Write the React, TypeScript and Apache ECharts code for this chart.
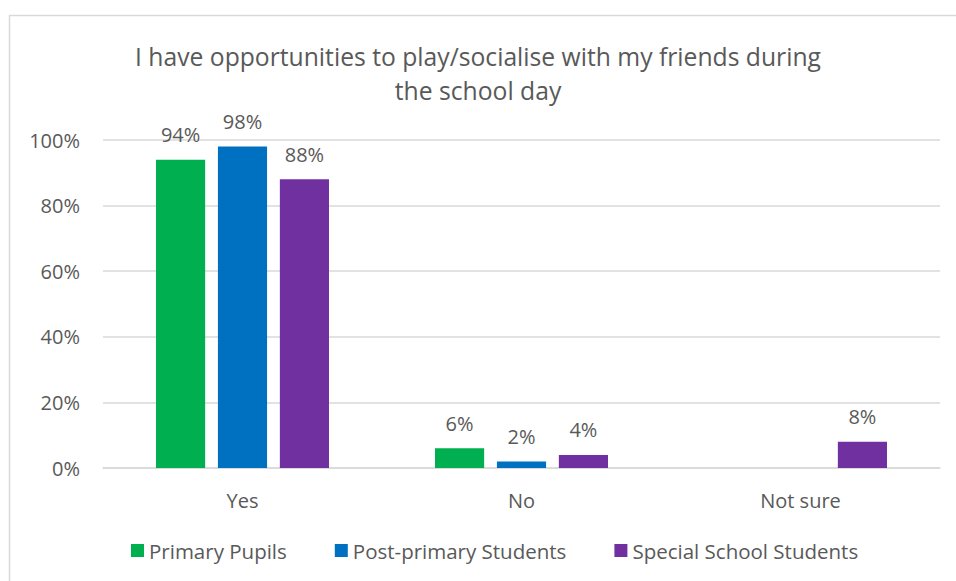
import React, { useEffect, useRef } from "react";
import * as echarts from "echarts";

const categories = ["Yes", "No", "Not sure"];
const seriesNames = ["Primary Pupils", "Post-primary Students", "Special School Students"];
const primaryPupils = [94, 6, 0];
const postPrimaryStudents = [98, 2, 0];
const specialSchoolStudents = [88, 4, 8];
const colors = ["#00B050", "#0070C0", "#7030A0"];
const titleText = "I have opportunities to play/socialise with my friends during\nthe school day";

const FONT = "'Open Sans', 'Noto Sans', sans-serif";
const TXT = "#595959";

export default function App() {
  const ref = useRef<HTMLDivElement>(null);
  useEffect(() => {
    if (!ref.current) return;
    const chart = echarts.init(ref.current, null, { renderer: "svg" });
    const values = [primaryPupils, postPrimaryStudents, specialSchoolStudents];
    chart.setOption({
      animation: false,
      backgroundColor: "#fff",
      textStyle: { fontFamily: FONT },
      title: {
        text: titleText,
        left: "center",
        top: 39,
        padding: 0,
        textStyle: { fontFamily: FONT, fontSize: 24.7, fontWeight: "normal", color: TXT, lineHeight: 34 },
      },
      graphic: [
        {
          type: "rect",
          shape: { x: 9.5, y: 15.5, width: 960, height: 600 },
          style: { fill: "none", stroke: "#D9D9D9", lineWidth: 1.5 },
          silent: true,
          z: -1,
        },
      ],
      legend: {
        bottom: 15,
        left: 126,
        itemWidth: 13,
        itemHeight: 13,
        itemGap: 48,
        icon: "rect",
        textStyle: { fontFamily: FONT, fontSize: 20.5, color: TXT },
        data: seriesNames,
      },
      grid: { left: 103, right: 16, top: 140, bottom: 113, containLabel: false },
      xAxis: {
        type: "category",
        data: categories,
        axisLine: { lineStyle: { color: "#D9D9D9", width: 1.5 } },
        axisTick: { show: false },
        axisLabel: { fontFamily: FONT, fontSize: 20, color: TXT, margin: 22 },
      },
      yAxis: {
        type: "value",
        min: 0,
        max: 100,
        interval: 20,
        axisLine: { show: false },
        axisTick: { show: false },
        splitLine: { lineStyle: { color: "#D9D9D9", width: 1.5 } },
        axisLabel: { fontFamily: FONT, fontSize: 20, color: TXT, margin: 23, formatter: "{value}%" },
      },
      series: seriesNames.map((name, i) => ({
        name,
        type: "bar",
        data: values[i].map((v) => (v === 0 ? null : v)),
        itemStyle: { color: colors[i] },
        barGap: "26%",
        barCategoryGap: "38%",
        label: {
          show: true,
          position: "top",
          distance: 15,
          formatter: "{c}%",
          fontFamily: FONT,
          fontSize: 20,
          color: TXT,
        },
      })),
    });
    return () => chart.dispose();
  }, []);
  return (
    <div
      ref={ref}
      style={{ position: "fixed", left: 0, top: 0, width: 956, height: 581 }}
    />
  );
}
